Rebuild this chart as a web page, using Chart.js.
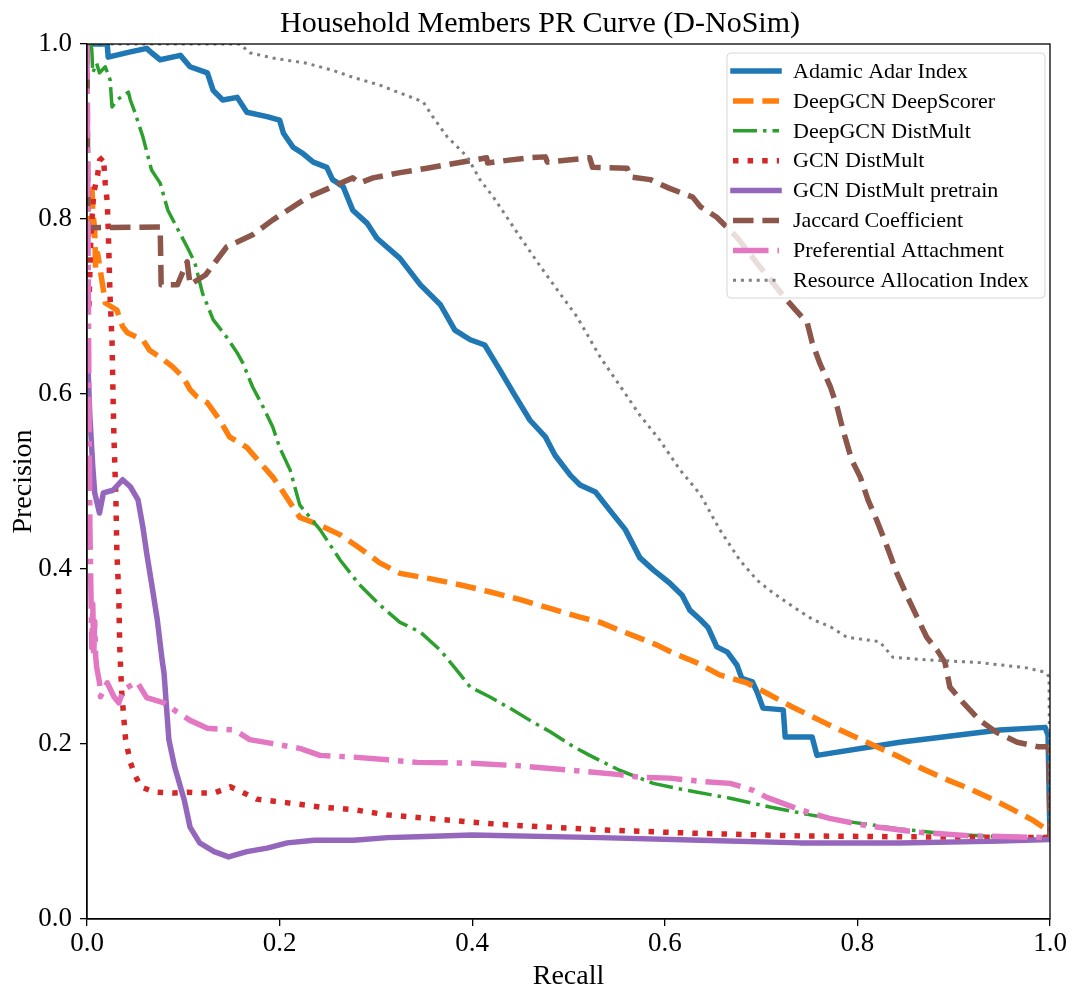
<!DOCTYPE html>
<html>
<head>
<meta charset="utf-8">
<script src="https://cdn.jsdelivr.net/npm/chart.js@4.4.0/dist/chart.umd.min.js"></script>
<style>
    html, body { margin: 0; padding: 0; background: #fff; }
    #wrap { width: 1081px; height: 989px; position: relative; }
</style>
</head>
<body>
<div id="wrap"><canvas id="prChart"></canvas></div>
<script>
// 数据：每条曲线的 recall / precision
const adamicRecall = [0, 0.021, 0.022, 0.045, 0.062, 0.067, 0.076, 0.097, 0.107, 0.125, 0.131, 0.141, 0.156, 0.166, 0.187, 0.2, 0.204, 0.214, 0.224, 0.235, 0.249, 0.255, 0.266, 0.276, 0.291, 0.301, 0.325, 0.346, 0.367, 0.382, 0.398, 0.413, 0.429, 0.444, 0.46, 0.476, 0.486, 0.502, 0.512, 0.528, 0.543, 0.559, 0.574, 0.588, 0.605, 0.618, 0.626, 0.637, 0.645, 0.654, 0.665, 0.675, 0.68, 0.691, 0.696, 0.702, 0.723, 0.725, 0.753, 0.758, 0.844, 0.948, 0.995, 0.998, 1.0];
const adamicPrecision = [1.0, 1.0, 0.985, 0.991, 0.995, 0.99, 0.982, 0.987, 0.974, 0.967, 0.947, 0.936, 0.939, 0.922, 0.917, 0.913, 0.898, 0.882, 0.875, 0.865, 0.859, 0.845, 0.837, 0.81, 0.795, 0.778, 0.755, 0.725, 0.702, 0.673, 0.662, 0.656, 0.627, 0.599, 0.57, 0.551, 0.53, 0.507, 0.496, 0.488, 0.467, 0.445, 0.413, 0.399, 0.384, 0.37, 0.353, 0.342, 0.333, 0.311, 0.305, 0.29, 0.275, 0.271, 0.259, 0.241, 0.239, 0.208, 0.208, 0.187, 0.202, 0.216, 0.219, 0.21, 0.092];

const scorerRecall = [0.002, 0.005, 0.006, 0.008, 0.009, 0.011, 0.017, 0.019, 0.031, 0.037, 0.042, 0.058, 0.065, 0.076, 0.089, 0.1, 0.107, 0.114, 0.125, 0.138, 0.148, 0.166, 0.177, 0.193, 0.2, 0.221, 0.242, 0.263, 0.283, 0.304, 0.325, 0.356, 0.387, 0.418, 0.45, 0.481, 0.512, 0.533, 0.553, 0.574, 0.592, 0.609, 0.633, 0.657, 0.685, 0.706, 0.733, 0.761, 0.782, 0.844, 0.865, 0.889, 0.914, 0.938, 0.958, 0.982, 0.997, 1.0];
const scorerPrecision = [0.78, 0.841, 0.81, 0.787, 0.742, 0.761, 0.719, 0.704, 0.696, 0.677, 0.67, 0.662, 0.65, 0.642, 0.631, 0.619, 0.605, 0.597, 0.59, 0.57, 0.551, 0.539, 0.525, 0.505, 0.494, 0.459, 0.45, 0.439, 0.424, 0.407, 0.395, 0.389, 0.382, 0.374, 0.365, 0.355, 0.345, 0.339, 0.33, 0.321, 0.313, 0.304, 0.293, 0.279, 0.27, 0.258, 0.242, 0.227, 0.216, 0.185, 0.173, 0.161, 0.15, 0.138, 0.127, 0.113, 0.102, 0.095];

const deepDistRecall = [0.004, 0.005, 0.006, 0.01, 0.013, 0.019, 0.024, 0.026, 0.031, 0.043, 0.045, 0.05, 0.058, 0.067, 0.076, 0.084, 0.093, 0.104, 0.112, 0.12, 0.131, 0.145, 0.156, 0.162, 0.172, 0.183, 0.193, 0.2, 0.211, 0.221, 0.242, 0.263, 0.283, 0.304, 0.325, 0.346, 0.367, 0.382, 0.398, 0.418, 0.439, 0.46, 0.481, 0.502, 0.522, 0.553, 0.588, 0.623, 0.668, 0.709, 0.751, 0.792, 0.844, 0.896, 0.948, 1.0];
const deepDistPrecision = [1.0, 0.993, 0.967, 0.978, 0.967, 0.974, 0.959, 0.928, 0.936, 0.945, 0.936, 0.921, 0.894, 0.856, 0.841, 0.81, 0.791, 0.768, 0.75, 0.715, 0.685, 0.665, 0.647, 0.635, 0.608, 0.585, 0.562, 0.539, 0.513, 0.473, 0.445, 0.41, 0.382, 0.359, 0.339, 0.328, 0.307, 0.287, 0.265, 0.254, 0.241, 0.227, 0.214, 0.199, 0.187, 0.17, 0.155, 0.147, 0.138, 0.128, 0.119, 0.111, 0.103, 0.097, 0.094, 0.093];

const gcnRecall = [0.002, 0.004, 0.007, 0.011, 0.013, 0.017, 0.019, 0.021, 0.022, 0.023, 0.024, 0.026, 0.027, 0.028, 0.03, 0.031, 0.033, 0.034, 0.036, 0.04, 0.045, 0.05, 0.056, 0.07, 0.09, 0.104, 0.118, 0.132, 0.149, 0.163, 0.176, 0.207, 0.242, 0.277, 0.311, 0.343, 0.43, 0.53, 0.63, 0.74, 0.84, 1.0];
const gcnPrecision = [0.70, 0.78, 0.83, 0.85, 0.867, 0.871, 0.84, 0.82, 0.79, 0.75, 0.71, 0.66, 0.60, 0.55, 0.48, 0.42, 0.37, 0.31, 0.26, 0.206, 0.179, 0.164, 0.151, 0.145, 0.144, 0.145, 0.144, 0.144, 0.151, 0.144, 0.137, 0.133, 0.128, 0.125, 0.119, 0.116, 0.108, 0.102, 0.098, 0.095, 0.094, 0.093];

const pretrainRecall = [0.001, 0.003, 0.006, 0.008, 0.013, 0.017, 0.027, 0.037, 0.045, 0.053, 0.058, 0.062, 0.067, 0.073, 0.078, 0.08, 0.085, 0.091, 0.101, 0.107, 0.117, 0.132, 0.147, 0.166, 0.187, 0.208, 0.236, 0.277, 0.312, 0.343, 0.4, 0.533, 0.637, 0.74, 0.844, 0.948, 1.0];
const pretrainPrecision = [0.631, 0.574, 0.517, 0.487, 0.464, 0.487, 0.49, 0.502, 0.494, 0.479, 0.448, 0.418, 0.384, 0.342, 0.296, 0.281, 0.205, 0.174, 0.136, 0.105, 0.087, 0.077, 0.071, 0.077, 0.081, 0.087, 0.09, 0.09, 0.093, 0.094, 0.096, 0.093, 0.09, 0.087, 0.087, 0.089, 0.091];

const jaccardRecall = [0, 0.001, 0.076, 0.077, 0.094, 0.104, 0.107, 0.123, 0.145, 0.172, 0.193, 0.228, 0.255, 0.276, 0.283, 0.297, 0.325, 0.353, 0.384, 0.415, 0.416, 0.436, 0.46, 0.476, 0.478, 0.522, 0.525, 0.561, 0.564, 0.585, 0.605, 0.629, 0.637, 0.654, 0.675, 0.699, 0.727, 0.748, 0.753, 0.761, 0.772, 0.779, 0.785, 0.794, 0.803, 0.811, 0.82, 0.831, 0.841, 0.852, 0.862, 0.872, 0.883, 0.891, 0.896, 0.91, 0.927, 0.945, 0.966, 0.987, 0.999, 1.0];
const jaccardPrecision = [1.0, 0.79, 0.791, 0.725, 0.725, 0.751, 0.725, 0.736, 0.768, 0.782, 0.799, 0.824, 0.837, 0.847, 0.841, 0.847, 0.853, 0.858, 0.864, 0.87, 0.864, 0.867, 0.87, 0.871, 0.865, 0.87, 0.859, 0.858, 0.848, 0.845, 0.835, 0.825, 0.814, 0.802, 0.779, 0.745, 0.707, 0.681, 0.659, 0.635, 0.608, 0.585, 0.559, 0.525, 0.505, 0.479, 0.456, 0.425, 0.395, 0.368, 0.345, 0.322, 0.307, 0.293, 0.265, 0.247, 0.227, 0.213, 0.202, 0.197, 0.197, 0.096];

const prefRecall = [0, 0.001, 0.002, 0.003, 0.004, 0.005, 0.006, 0.007, 0.008, 0.009, 0.01, 0.013, 0.014, 0.021, 0.028, 0.033, 0.038, 0.052, 0.062, 0.08, 0.093, 0.107, 0.125, 0.153, 0.169, 0.19, 0.221, 0.242, 0.277, 0.312, 0.343, 0.4, 0.45, 0.502, 0.553, 0.574, 0.605, 0.64, 0.668, 0.692, 0.706, 0.74, 0.771, 0.813, 0.865, 0.917, 1.0];
const prefPrecision = [1.0, 0.8, 0.6, 0.45, 0.38, 0.31, 0.36, 0.30, 0.34, 0.30, 0.288, 0.27, 0.254, 0.27, 0.254, 0.247, 0.262, 0.271, 0.253, 0.247, 0.237, 0.227, 0.218, 0.216, 0.205, 0.201, 0.195, 0.187, 0.185, 0.182, 0.179, 0.178, 0.175, 0.17, 0.165, 0.162, 0.161, 0.157, 0.155, 0.147, 0.139, 0.125, 0.115, 0.106, 0.099, 0.095, 0.093];

const resourceRecall = [0, 0.159, 0.169, 0.193, 0.228, 0.255, 0.276, 0.304, 0.325, 0.349, 0.359, 0.374, 0.395, 0.408, 0.422, 0.436, 0.45, 0.47, 0.491, 0.509, 0.533, 0.553, 0.574, 0.595, 0.616, 0.637, 0.657, 0.678, 0.696, 0.712, 0.733, 0.754, 0.772, 0.789, 0.823, 0.837, 0.875, 0.927, 0.976, 0.995, 0.999, 1.0];
const resourcePrecision = [1.0, 1.0, 0.99, 0.984, 0.978, 0.97, 0.962, 0.953, 0.944, 0.934, 0.917, 0.894, 0.871, 0.845, 0.825, 0.802, 0.779, 0.747, 0.715, 0.688, 0.642, 0.61, 0.576, 0.547, 0.513, 0.485, 0.445, 0.41, 0.387, 0.373, 0.357, 0.342, 0.334, 0.322, 0.317, 0.299, 0.296, 0.293, 0.287, 0.282, 0.277, 0.096];

const axisTicks = [0, 0.2, 0.4, 0.6, 0.8, 1.0];

const SERIF = '"Liberation Serif", "DejaVu Serif", serif';

function pairs(xs, ys) {
    return xs.map((x, i) => ({ x: x, y: ys[i] }));
}

// 曲线样式（仿 matplotlib 默认配色）
const series = [
    { label: 'Adamic Adar Index', x: adamicRecall, y: adamicPrecision, color: '#1f77b4', width: 5.5, dash: [] },
    { label: 'DeepGCN DeepScorer', x: scorerRecall, y: scorerPrecision, color: '#ff7f0e', width: 5.5, dash: [20.5, 8.9] },
    { label: 'DeepGCN DistMult', x: deepDistRecall, y: deepDistPrecision, color: '#2ca02c', width: 3.5, dash: [24, 6, 3.5, 6] },
    { label: 'GCN DistMult', x: gcnRecall, y: gcnPrecision, color: '#d62728', width: 5.5, dash: [5.5, 9.1] },
    { label: 'GCN DistMult pretrain', x: pretrainRecall, y: pretrainPrecision, color: '#9467bd', width: 5.5, dash: [] },
    { label: 'Jaccard Coefficient', x: jaccardRecall, y: jaccardPrecision, color: '#8c564b', width: 5.5, dash: [20.5, 8.9] },
    { label: 'Preferential Attachment', x: prefRecall, y: prefPrecision, color: '#e377c2', width: 5.5, dash: [35.5, 8.9, 5.5, 8.9] },
    { label: 'Resource Allocation Index', x: resourceRecall, y: resourcePrecision, color: '#7f7f7f', width: 3, dash: [3, 4.9] }
];

// 外框、标题、坐标轴标题、图例
const decorations = {
    id: 'decorations',
    afterDatasetsDraw(chart) {
        const { ctx, chartArea: a } = chart;
        ctx.save();
        ctx.strokeStyle = '#000';
        ctx.lineWidth = 1.3;
        ctx.strokeRect(a.left, a.top, a.right - a.left, a.bottom - a.top);
        ctx.restore();
    },
    afterDraw(chart) {
        const { ctx, chartArea: a } = chart;
        ctx.save();
        ctx.fillStyle = '#000';
        ctx.textAlign = 'center';
        ctx.textBaseline = 'alphabetic';
        ctx.font = '30px ' + SERIF;
        ctx.fillText('Household Members PR Curve (D-NoSim)', 540, 32);

        ctx.font = '28px ' + SERIF;
        ctx.fillText('Recall', (a.left + a.right) / 2, 984);
        ctx.save();
        ctx.translate(31, (a.top + a.bottom) / 2);
        ctx.rotate(-Math.PI / 2);
        ctx.fillText('Precision', 0, 0);
        ctx.restore();

        // 图例
        const bx = a.right - 323, by = a.top + 9, bw = 318, bh = 245;
        ctx.beginPath();
        ctx.roundRect(bx, by, bw, bh, 4);
        ctx.fillStyle = 'rgba(255,255,255,0.8)';
        ctx.fill();
        ctx.strokeStyle = 'rgba(204,204,204,0.8)';
        ctx.lineWidth = 1;
        ctx.stroke();

        ctx.font = '22px ' + SERIF;
        ctx.textAlign = 'left';
        ctx.textBaseline = 'middle';
        series.forEach((s, i) => {
            const y = by + 18 + i * 29.9;
            ctx.save();
            ctx.strokeStyle = s.color;
            ctx.lineWidth = s.width;
            ctx.setLineDash(s.dash);
            ctx.lineCap = s.dash.length ? 'butt' : 'square';
            ctx.beginPath();
            ctx.moveTo(bx + 6, y);
            ctx.lineTo(bx + 52, y);
            ctx.stroke();
            ctx.restore();
            ctx.fillStyle = '#000';
            ctx.fillText(s.label, bx + 66, y + 1);
        });
        ctx.restore();
    }
};

const ctx = document.getElementById('prChart');
new Chart(ctx, {
    type: 'line',
    data: {
        datasets: series.map((s, i) => ({
            label: s.label,
            data: pairs(s.x, s.y),
            borderColor: s.color,
            backgroundColor: s.color,
            borderWidth: s.width,
            borderDash: s.dash,
            borderJoinStyle: 'round',
            borderCapStyle: 'butt',
            pointRadius: 0,
            tension: 0,
            fill: false,
            clip: 0,
            order: series.length - i // 先画的在下面
        }))
    },
    options: {
        responsive: true,
        maintainAspectRatio: false,
        devicePixelRatio: 1,
        animation: false,
        layout: {
            padding: { top: 44, right: 31, left: 0, bottom: 0 }
        },
        plugins: {
            legend: { display: false },
            title: { display: false },
            tooltip: { enabled: false }
        },
        scales: {
            x: {
                type: 'linear',
                min: 0,
                max: 1,
                afterFit(scale) { scale.height = 70; },
                afterBuildTicks(scale) { scale.ticks = axisTicks.map(v => ({ value: v })); },
                grid: { drawOnChartArea: false, drawTicks: true, tickLength: 7, color: '#000', lineWidth: 1.3 },
                border: { display: true, color: '#000', width: 1.3 },
                ticks: {
                    color: '#000',
                    padding: 2,
                    maxRotation: 0,
                    font: { family: SERIF, size: 27 },
                    callback: v => v.toFixed(1)
                }
            },
            y: {
                type: 'linear',
                min: 0,
                max: 1,
                afterFit(scale) { scale.width = 87; },
                afterBuildTicks(scale) { scale.ticks = axisTicks.map(v => ({ value: v })); },
                grid: { drawOnChartArea: false, drawTicks: true, tickLength: 7, color: '#000', lineWidth: 1.3 },
                border: { display: true, color: '#000', width: 1.3 },
                ticks: {
                    color: '#000',
                    padding: 8,
                    font: { family: SERIF, size: 27 },
                    callback: v => v.toFixed(1)
                }
            }
        }
    },
    plugins: [decorations]
});
</script>
</body>
</html>
